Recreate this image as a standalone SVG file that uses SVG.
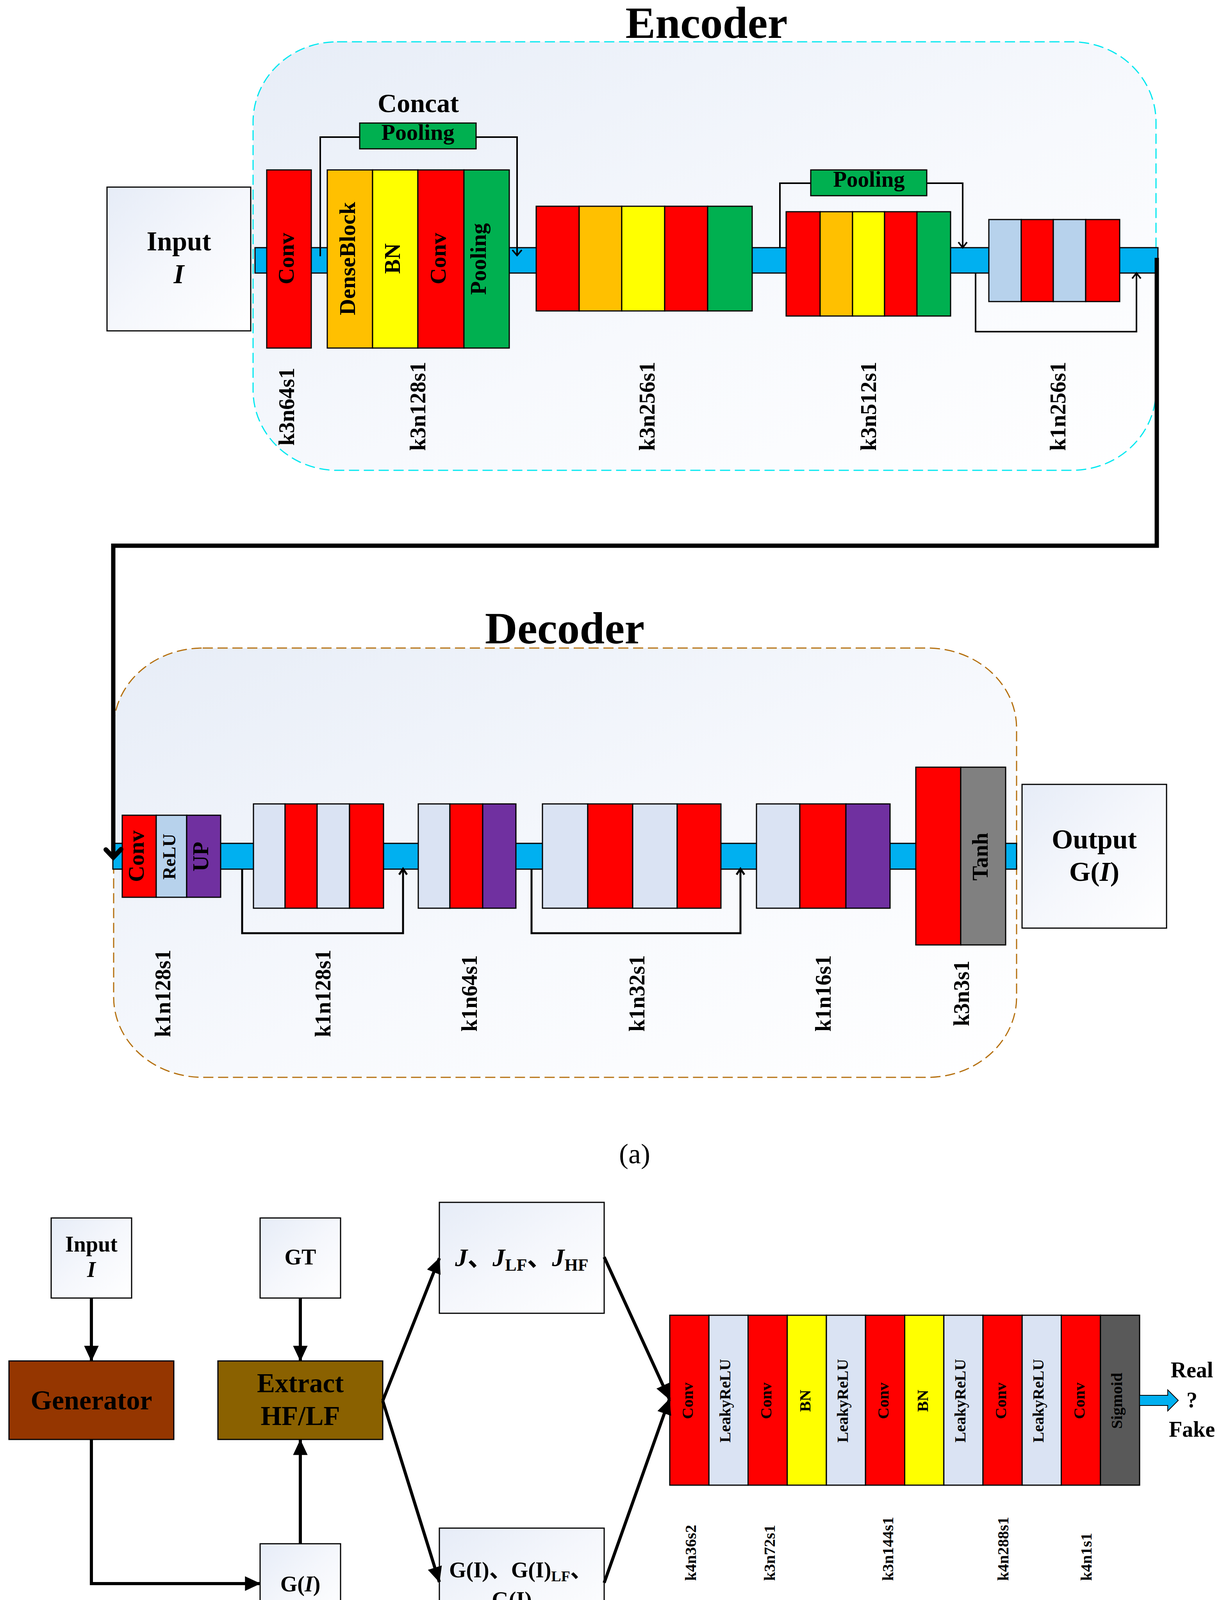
<svg xmlns="http://www.w3.org/2000/svg" width="3129" height="4447" viewBox="0 0 3129 4447">
<defs>
<linearGradient id="gBox" x1="0" y1="0" x2="1" y2="1">
<stop offset="0" stop-color="#e6ecf7"/><stop offset="0.5" stop-color="#f5f7fc"/><stop offset="1" stop-color="#ffffff"/>
</linearGradient>
<linearGradient id="gCont" x1="0" y1="0" x2="1" y2="1">
<stop offset="0" stop-color="#e7edf7"/><stop offset="0.55" stop-color="#f7f9fd"/><stop offset="1" stop-color="#ffffff"/>
</linearGradient>
<marker id="tri" markerUnits="userSpaceOnUse" markerWidth="40" markerHeight="40" viewBox="0 0 30 28" refX="29" refY="14" orient="auto">
<path d="M0,0 L30,14 L0,28 Z" fill="#000"/>
</marker>
<style>
.t{font-family:'Liberation Serif','Noto Sans CJK SC',serif;font-weight:bold;fill:#000}
.n{font-family:'Liberation Serif','Noto Sans CJK SC',serif;font-weight:normal;fill:#000}
.c{stroke:#000;stroke-width:3}
.bar{fill:#00b0f0;stroke:#000;stroke-width:3}
.R{fill:#ff0000}.O{fill:#ffc000}.Y{fill:#ffff00}.G{fill:#00b050}.L{fill:#b7d2ec}.W{fill:#dae3f3}.P{fill:#7030a0}.A{fill:#808080}.D{fill:#595959}
.wbox{fill:url(#gBox);stroke:#000;stroke-width:3}
.sk{fill:none;stroke:#000;stroke-width:4}
.skd{fill:none;stroke:#000;stroke-width:5}
.ar{fill:none;stroke:#000;stroke-width:8;marker-end:url(#tri)}
</style>
</defs>
<rect width="3129" height="4447" fill="#fff"/>

<!-- Encoder container -->
<g id="encoder">
<rect x="648" y="107" width="2312" height="1097" rx="215" ry="205" fill="url(#gCont)" stroke="#00e8f0" stroke-width="3" stroke-dasharray="26 12"/>
<text class="t" x="1809" y="97" font-size="115" text-anchor="middle">Encoder</text>
</g>

<!-- Decoder container -->
<g id="decoder">
<rect x="291" y="1659" width="2312" height="1099" rx="228" ry="205" fill="url(#gCont)" stroke="#b5700f" stroke-width="3" stroke-dasharray="26 12"/>
<text class="t" x="1446" y="1647" font-size="115" text-anchor="middle">Decoder</text>
</g>

<!-- bars -->
<rect class="bar" x="653" y="634" width="2312" height="65"/>
<rect class="bar" x="289" y="2159" width="2314" height="66"/>

<!-- Encoder nodes -->
<g id="enc-input">
<rect class="wbox" x="274" y="479" width="368" height="368"/>
<text class="t" x="458" y="641" font-size="69" text-anchor="middle">Input</text>
<text class="t" x="458" y="725" font-size="69" text-anchor="middle" font-style="italic">I</text>
</g>
<g id="enc-b1">
<rect class="c R" x="683" y="435" width="114" height="456"/>
<text class="t" font-size="58" text-anchor="middle" transform="translate(752,662) rotate(-90)">Conv</text>
<text class="t" font-size="57" text-anchor="middle" transform="translate(753,1041) rotate(-90)">k3n64s1</text>
</g>
<g id="enc-b2">
<rect class="c O" x="838" y="435" width="116" height="456"/>
<rect class="c Y" x="954" y="435" width="116" height="456"/>
<rect class="c R" x="1070" y="435" width="118" height="456"/>
<rect class="c G" x="1188" y="435" width="116" height="456"/>
<text class="t" font-size="58" text-anchor="middle" transform="translate(909,662) rotate(-90)">DenseBlock</text>
<text class="t" font-size="56" text-anchor="middle" transform="translate(1024,662) rotate(-90)">BN</text>
<text class="t" font-size="58" text-anchor="middle" transform="translate(1141,662) rotate(-90)">Conv</text>
<text class="t" font-size="57" text-anchor="middle" transform="translate(1244,663) rotate(-90)">Pooling</text>
<text class="t" font-size="57" text-anchor="middle" transform="translate(1089,1040) rotate(-90)">k3n128s1</text>
</g>
<g id="enc-pool1">
<text class="t" x="1071" y="287" font-size="68" text-anchor="middle">Concat</text>
<rect class="c G" x="921" y="315" width="298" height="66"/>
<text class="t" x="1070" y="358" font-size="58" text-anchor="middle">Pooling</text>
</g>
<g id="enc-b3">
<rect class="c R" x="1373" y="528" width="110" height="268"/>
<rect class="c O" x="1483" y="528" width="109" height="268"/>
<rect class="c Y" x="1592" y="528" width="110" height="268"/>
<rect class="c R" x="1702" y="528" width="110" height="268"/>
<rect class="c G" x="1812" y="528" width="114" height="268"/>
<text class="t" font-size="57" text-anchor="middle" transform="translate(1676,1040) rotate(-90)">k3n256s1</text>
</g>
<g id="enc-pool2">
<rect class="c G" x="2076" y="435" width="297" height="66"/>
<text class="t" x="2225" y="478" font-size="57" text-anchor="middle">Pooling</text>
</g>
<g id="enc-b4">
<rect class="c R" x="2013" y="542" width="87" height="267"/>
<rect class="c O" x="2100" y="542" width="83" height="267"/>
<rect class="c Y" x="2183" y="542" width="82" height="267"/>
<rect class="c R" x="2265" y="542" width="83" height="267"/>
<rect class="c G" x="2348" y="542" width="86" height="267"/>
<text class="t" font-size="57" text-anchor="middle" transform="translate(2243,1040) rotate(-90)">k3n512s1</text>
</g>
<g id="enc-b5">
<rect class="c L" x="2532" y="562" width="83" height="210"/>
<rect class="c R" x="2615" y="562" width="82" height="210"/>
<rect class="c L" x="2697" y="562" width="83" height="210"/>
<rect class="c R" x="2780" y="562" width="87" height="210"/>
<text class="t" font-size="57" text-anchor="middle" transform="translate(2728,1040) rotate(-90)">k1n256s1</text>
</g>

<!-- Decoder nodes -->
<g id="dec-b1">
<rect class="c R" x="313" y="2087" width="87" height="210"/>
<rect class="c L" x="400" y="2087" width="78" height="210"/>
<rect class="c P" x="478" y="2087" width="87" height="210"/>
<text class="t" font-size="58" text-anchor="middle" transform="translate(368,2192) rotate(-90)">Conv</text>
<text class="t" font-size="46" text-anchor="middle" transform="translate(449,2193) rotate(-90)">ReLU</text>
<text class="t" font-size="57" text-anchor="middle" transform="translate(533,2193) rotate(-90)">UP</text>
<text class="t" font-size="56" text-anchor="middle" transform="translate(436,2543) rotate(-90)">k1n128s1</text>
</g>
<g id="dec-b2">
<rect class="c W" x="649" y="2058" width="81" height="267"/>
<rect class="c R" x="730" y="2058" width="82" height="267"/>
<rect class="c W" x="812" y="2058" width="83" height="267"/>
<rect class="c R" x="895" y="2058" width="87" height="267"/>
<text class="t" font-size="56" text-anchor="middle" transform="translate(846,2543) rotate(-90)">k1n128s1</text>
</g>
<g id="dec-b3">
<rect class="c W" x="1071" y="2058" width="81" height="267"/>
<rect class="c R" x="1152" y="2058" width="84" height="267"/>
<rect class="c P" x="1236" y="2058" width="85" height="267"/>
<text class="t" font-size="56" text-anchor="middle" transform="translate(1221,2543) rotate(-90)">k1n64s1</text>
</g>
<g id="dec-b4">
<rect class="c W" x="1389" y="2058" width="116" height="267"/>
<rect class="c R" x="1505" y="2058" width="115" height="267"/>
<rect class="c W" x="1620" y="2058" width="114" height="267"/>
<rect class="c R" x="1734" y="2058" width="112" height="267"/>
<text class="t" font-size="56" text-anchor="middle" transform="translate(1650,2543) rotate(-90)">k1n32s1</text>
</g>
<g id="dec-b5">
<rect class="c W" x="1937" y="2058" width="111" height="267"/>
<rect class="c R" x="2048" y="2058" width="118" height="267"/>
<rect class="c P" x="2166" y="2058" width="113" height="267"/>
<text class="t" font-size="56" text-anchor="middle" transform="translate(2127,2543) rotate(-90)">k1n16s1</text>
</g>
<g id="dec-b6">
<rect class="c R" x="2345" y="1964" width="115" height="455"/>
<rect class="c A" x="2460" y="1964" width="115" height="455"/>
<text class="t" font-size="56" text-anchor="middle" transform="translate(2529,2193) rotate(-90)">Tanh</text>
<text class="t" font-size="56" text-anchor="middle" transform="translate(2481,2543) rotate(-90)">k3n3s1</text>
</g>
<g id="dec-output">
<rect class="wbox" x="2617" y="2008" width="370" height="368"/>
<text class="t" x="2802" y="2172" font-size="70" text-anchor="middle">Output</text>
<text class="t" x="2802" y="2255" font-size="70" text-anchor="middle">G(<tspan font-style="italic">I</tspan>)</text>
</g>

<!-- Connectors part (a) -->
<g id="connectors-a">
<path class="sk" d="M820,656 V351 H921"/>
<path class="sk" d="M1219,351 H1324 V654"/>
<path class="sk" d="M1312,640 L1324,654 L1336,640"/>
<path class="sk" d="M1997,634 V469 H2076"/>
<path class="sk" d="M2373,469 H2465 V634"/>
<path class="sk" d="M2454,620 L2465,634 L2476,620"/>
<path class="sk" d="M2498,699 V849 H2910 V699"/>
<path class="sk" d="M2899,713 L2910,699 L2921,713"/>
<path class="skd" d="M620,2224 V2389 H1032 V2224"/>
<path class="skd" d="M1022,2239 L1032,2224 L1042,2239"/>
<path class="skd" d="M1361,2224 V2389 H1896 V2224"/>
<path class="skd" d="M1886,2239 L1896,2224 L1906,2239"/>
<path d="M2962,660 V1397 H290 V2193" fill="none" stroke="#000" stroke-width="11"/>
<path d="M271,2175 L290,2195 L310,2174" fill="none" stroke="#000" stroke-width="12" stroke-linecap="round" stroke-linejoin="miter"/>
</g>

<text class="n" x="1625" y="2978" font-size="72" text-anchor="middle">(a)</text>

<!-- Part (b) nodes -->
<g id="b-input">
<rect class="wbox" x="131" y="3118" width="206" height="205"/>
<text class="t" x="234" y="3204" font-size="56" text-anchor="middle">Input</text>
<text class="t" x="234" y="3269" font-size="56" text-anchor="middle" font-style="italic">I</text>
</g>
<g id="b-gt">
<rect class="wbox" x="666" y="3118" width="206" height="205"/>
<text class="t" x="769" y="3237" font-size="56" text-anchor="middle">GT</text>
</g>
<g id="b-generator">
<rect class="c" fill="#953600" x="23" y="3484" width="422" height="201"/>
<text class="t" x="234" y="3608" font-size="70" text-anchor="middle">Generator</text>
</g>
<g id="b-extract">
<rect class="c" fill="#8a6100" x="558" y="3484" width="422" height="201"/>
<text class="t" x="769" y="3564" font-size="69" text-anchor="middle">Extract</text>
<text class="t" x="769" y="3648" font-size="69" text-anchor="middle">HF/LF</text>
</g>
<g id="b-gi">
<rect class="wbox" x="666" y="3952" width="206" height="205"/>
<text class="t" x="769" y="4074" font-size="56" text-anchor="middle">G(<tspan font-style="italic">I</tspan>)</text>
</g>
<g id="b-j">
<rect class="wbox" x="1125" y="3078" width="422" height="284"/>
<text class="t" x="1336" y="3241" font-size="64" text-anchor="middle"><tspan font-style="italic">J</tspan>、<tspan font-style="italic">J</tspan><tspan font-size="44" dy="12">LF</tspan><tspan dy="-12">、</tspan><tspan font-style="italic">J</tspan><tspan font-size="44" dy="12">HF</tspan></text>
</g>
<g id="b-gset">
<rect class="wbox" x="1125" y="3912" width="422" height="286"/>
<text class="t" x="1333" y="4038" font-size="56" text-anchor="middle">G(I)、G(I)<tspan font-size="38" dy="10">LF</tspan><tspan dy="-10">、</tspan></text>
<text class="t" x="1337" y="4114" font-size="56" text-anchor="middle">G(I)<tspan font-size="38" dy="10">HF</tspan></text>
</g>
<g id="b-disc">
<rect class="c R" x="1715" y="3367" width="100.25" height="435"/>
<rect class="c W" x="1815.25" y="3367" width="100.25" height="435"/>
<rect class="c R" x="1915.5" y="3367" width="100.25" height="435"/>
<rect class="c Y" x="2015.75" y="3367" width="100.25" height="435"/>
<rect class="c W" x="2116" y="3367" width="100.25" height="435"/>
<rect class="c R" x="2216.25" y="3367" width="100.25" height="435"/>
<rect class="c Y" x="2316.5" y="3367" width="100.25" height="435"/>
<rect class="c W" x="2416.75" y="3367" width="100.25" height="435"/>
<rect class="c R" x="2517" y="3367" width="100.25" height="435"/>
<rect class="c W" x="2617.25" y="3367" width="100.25" height="435"/>
<rect class="c R" x="2717.5" y="3367" width="100.25" height="435"/>
<rect class="c D" x="2817.75" y="3367" width="100.25" height="435"/>
<g font-size="41" text-anchor="middle">
<text class="t" transform="translate(1774,3586) rotate(-90)">Conv</text>
<text class="t" transform="translate(1870,3586) rotate(-90)">LeakyReLU</text>
<text class="t" transform="translate(1975,3586) rotate(-90)">Conv</text>
<text class="t" transform="translate(2075,3586) rotate(-90)">BN</text>
<text class="t" transform="translate(2171,3586) rotate(-90)">LeakyReLU</text>
<text class="t" transform="translate(2275,3586) rotate(-90)">Conv</text>
<text class="t" transform="translate(2376,3586) rotate(-90)">BN</text>
<text class="t" transform="translate(2472,3586) rotate(-90)">LeakyReLU</text>
<text class="t" transform="translate(2576,3586) rotate(-90)">Conv</text>
<text class="t" transform="translate(2672,3586) rotate(-90)">LeakyReLU</text>
<text class="t" transform="translate(2777,3586) rotate(-90)">Conv</text>
<text class="t" transform="translate(2873,3586) rotate(-90)">Sigmoid</text>
</g>
<g font-size="41">
<text class="t" transform="translate(1782,4047) rotate(-90)">k4n36s2</text>
<text class="t" transform="translate(1984,4047) rotate(-90)">k3n72s1</text>
<text class="t" transform="translate(2287,4047) rotate(-90)">k3n144s1</text>
<text class="t" transform="translate(2582,4047) rotate(-90)">k4n288s1</text>
<text class="t" transform="translate(2795,4047) rotate(-90)">k4n1s1</text>
</g>
</g>
<g id="b-result">
<polygon points="2918,3572 2990,3572 2990,3558 3017,3585 2990,3612 2990,3598 2918,3598" fill="#00b0f0" stroke="#000" stroke-width="2"/>
<text class="t" x="3052" y="3526" font-size="56" text-anchor="middle">Real</text>
<text class="t" x="3052" y="3603" font-size="56" text-anchor="middle">?</text>
<text class="t" x="3052" y="3678" font-size="56" text-anchor="middle">Fake</text>
</g>

<!-- Connectors part (b) -->
<g id="connectors-b">
<path class="ar" d="M234,3323 V3484"/>
<path class="ar" d="M769,3323 V3484"/>
<path class="ar" d="M234,3685 V4054 H666"/>
<path class="ar" d="M769,3952 V3686"/>
<path class="ar" d="M980,3586 L1125,3221"/>
<path class="ar" d="M980,3586 L1125,4050"/>
<path class="ar" d="M1547,3218 L1714,3582"/>
<path class="ar" d="M1547,4052 L1714,3582"/>
</g>

<text class="n" x="1625" y="4418" font-size="72" text-anchor="middle">(b)</text>
</svg>
